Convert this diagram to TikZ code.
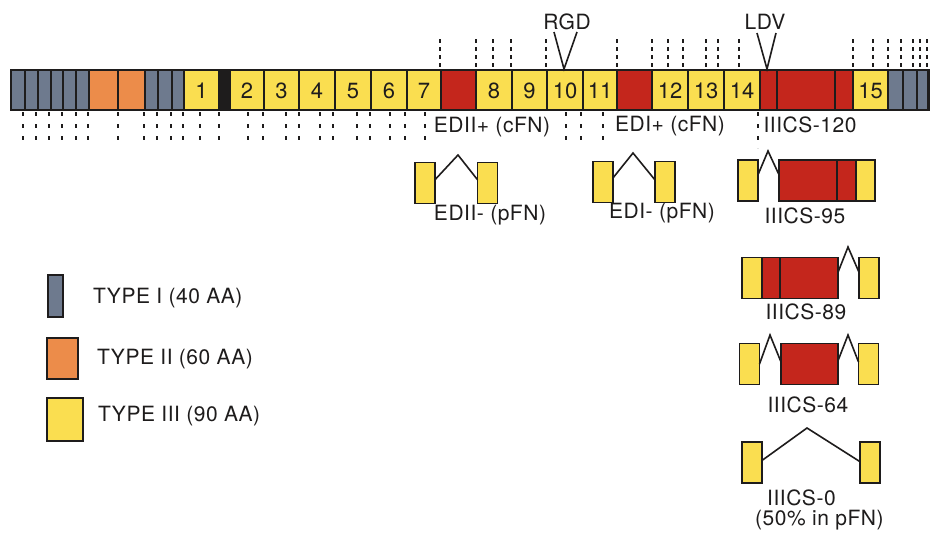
\documentclass[tikz,border=0pt]{standalone}
\usepackage{fontspec}
\setmainfont{TeX Gyre Heros}
\newfontfamily\lblfont[LetterSpace=2.5]{TeX Gyre Heros}
\usetikzlibrary{calc}

\definecolor{typeI}{RGB}{110,122,142}
\definecolor{typeII}{RGB}{236,140,74}
\definecolor{typeIII}{RGB}{250,222,80}
\definecolor{varred}{RGB}{196,38,28}
\definecolor{ink}{RGB}{30,28,28}

\tikzset{
  segline/.style={draw=ink, line width=1.4pt},
  lbl/.style={font=\lblfont\fontsize{21}{23}\selectfont, text=ink, inner sep=0pt},
  num/.style={font=\fontsize{22}{24}\selectfont, text=ink, inner sep=0pt},
  tickup/.style={draw=ink, line width=1.7pt, dash pattern=on 4pt off 4pt},
  tickdn/.style={draw=ink, line width=1.7pt, dash pattern=on 4pt off 8pt},
  exon/.style={draw=ink, line width=1.4pt, fill=typeIII, minimum width=20pt,
               minimum height=41pt, inner sep=0pt, outer sep=0pt},
  redblock/.style={draw=ink, line width=1.4pt, fill=varred, minimum height=41pt,
               inner sep=0pt, outer sep=0pt},
  hinge/.style={draw=ink, line width=1.6pt, line join=miter},
  vmark/.style={draw=ink, line width=1.6pt},
  legbox/.style={draw=ink, line width=1.4pt, inner sep=0pt, outer sep=0pt},
}

\begin{document}
\begin{tikzpicture}[x=1pt, y=-1pt]
\useasboundingbox (0,0) rectangle (930,536);
\fill[white] (0,0) rectangle (930,536);

% ---- domain bar of fibronectin ----
\begin{scope}
\clip (0,60) rectangle (930,120);
\foreach \a/\b/\c in {
  11/25/typeI, 25/38/typeI, 38/51/typeI, 51/63/typeI, 63/76/typeI, 76/89/typeI,
  89/118/typeII, 118/145/typeII,
  145/158/typeI, 158/172/typeI, 172/184/typeI,
  184/219/typeIII, 219/230/ink,
  230/264/typeIII, 264/299/typeIII, 299/335/typeIII, 335/371/typeIII,
  371/407/typeIII, 407/441/typeIII,
  441/476/varred,
  476/512/typeIII, 512/547/typeIII, 547/583/typeIII, 583/617/typeIII,
  617/652/varred,
  652/688/typeIII, 688/724/typeIII, 724/760/typeIII,
  760/777/varred, 777/835/varred, 835/853/varred,
  853/888/typeIII,
  888/903/typeI, 903/917/typeI, 917/928/typeI, 928/940/ink}
  {\filldraw[segline, fill=\c] (\a,70) rectangle (\b,110);}
\end{scope}

% module numbers
\foreach \x/\t in {201.5/1, 247/2, 281.5/3, 317/4, 353/5, 389/6, 424/7,
  494/8, 529.5/9, 565/10, 600/11, 670/12, 706/13, 742/14, 870.5/15}
  {\node[num] (m\t) at (\x,91) {\t};}

% dotted marks above the bar
\foreach \x in {440, 476, 493, 511, 546, 617, 652, 668, 683, 706, 718, 739,
  853, 873, 888, 901, 913, 920, 927}
  {\draw[tickup] (\x,39) -- (\x,68);}

% dotted marks below the bar
\foreach \x in {23, 36, 49, 62, 76, 88, 118, 144, 157, 171, 183, 200, 219,
  248, 263, 286, 299, 320, 333, 357, 370, 390, 405, 425, 566, 581, 603}
  {\draw[tickdn] (\x,112) -- (\x,141);}
\draw[tickdn] (758,112) -- (758,148);

% RGD and LDV sites
\node[lbl] (rgd) at (567,22) {RGD};
\coordinate (rgdL) at (554,32);
\coordinate (rgdR) at (577,32);
\coordinate (rgdTip) at (564,69);
\draw[vmark] (rgdL) -- (rgdTip) -- (rgdR);

\node[lbl] (ldv) at (765,22) {LDV};
\coordinate (ldvL) at (757,33);
\coordinate (ldvR) at (776,33);
\coordinate (ldvTip) at (767,69);
\draw[vmark] (ldvL) -- (ldvTip) -- (ldvR);

% labels under the bar
\node[lbl] (ed2p) at (492,127) {EDII+ (cFN)};
\node[lbl] (ed1p) at (670,126) {EDI+ (cFN)};
\node[lbl] (cs120) at (810,125) {IIICS-120};

% ---- EDII- ----
\node[exon] (a1) at (425,183) {};
\node[exon] (a2) at (487.5,183) {};
\coordinate (aTop) at (458,155);
\draw[hinge] ($(a1.north east)!0.42!(a1.south east)$) -- (aTop)
  -- ($(a2.north west)!0.42!(a2.south west)$);
\node[lbl] (ed2m) at (490,215) {EDII- (pFN)};

% ---- EDI- ----
\node[exon] (b1) at (603,182) {};
\node[exon] (b2) at (665,182) {};
\coordinate (bTop) at (633,153);
\draw[hinge] ($(b1.north east)!0.4!(b1.south east)$) -- (bTop)
  -- ($(b2.north west)!0.45!(b2.south west)$);
\node[lbl] (ed1m) at (662,213) {EDI- (pFN)};

% ---- IIICS-95 ----
\node[exon] (c1) at (748,180.5) {};
\node[redblock, minimum width=58pt] (c2) at (808,180.5) {};
\node[redblock, minimum width=19pt] (c3) at (846.5,180.5) {};
\node[exon, minimum width=19pt] (c4) at (865.5,180.5) {};
\coordinate (cTop) at (768,151);
\draw[hinge] ($(c1.north east)!0.36!(c1.south east)$) -- (cTop)
  -- ($(c2.north west)!0.36!(c2.south west)$);
\node[lbl] (cs95) at (805,216) {IIICS-95};

% ---- IIICS-89 ----
\node[exon] (d1) at (752,278) {};
\node[redblock, minimum width=18pt] (d2) at (771,278) {};
\node[redblock, minimum width=58pt] (d3) at (809,278) {};
\node[exon] (d4) at (869,278) {};
\coordinate (dTop) at (848,247);
\draw[hinge] ($(d3.north east)!0.36!(d3.south east)$) -- (dTop)
  -- ($(d4.north west)!0.36!(d4.south west)$);
\node[lbl] (cs89) at (806,312) {IIICS-89};

% ---- IIICS-64 ----
\node[exon] (e1) at (749.5,364) {};
\node[redblock, minimum width=57pt] (e2) at (809.5,364) {};
\node[exon] (e3) at (868.5,364) {};
\coordinate (eTopL) at (770,335);
\coordinate (eTopR) at (848,335);
\draw[hinge] ($(e1.north east)!0.5!(e1.south east)$) -- (eTopL)
  -- ($(e2.north west)!0.45!(e2.south west)$);
\draw[hinge] ($(e2.north east)!0.42!(e2.south east)$) -- (eTopR)
  -- ($(e3.north west)!0.45!(e3.south west)$);
\node[lbl] (cs64) at (808,405) {IIICS-64};

% ---- IIICS-0 ----
\node[exon] (f1) at (752,462.5) {};
\node[exon] (f2) at (870,462.5) {};
\coordinate (fTop) at (807,428);
\draw[hinge] ($(f1.north east)!0.45!(f1.south east)$) -- (fTop)
  -- ($(f2.north west)!0.48!(f2.south west)$);
\node[lbl, anchor=west] (cs0) at (767,498) {IIICS-0};
\node[lbl, anchor=west] (cs0b) at (755,520) {(50\% in pFN)};

% ---- legend ----
\node[legbox, fill=typeI, minimum width=15pt, minimum height=42pt] (k1) at (55.5,296) {};
\node[legbox, fill=typeII, minimum width=31pt, minimum height=41pt] (k2) at (62.5,358.5) {};
\node[legbox, fill=typeIII, minimum width=36pt, minimum height=43pt] (k3) at (65,419.5) {};
\node[lbl, anchor=west] (t1) at (93,298) {TYPE I (40 AA)};
\node[lbl, anchor=west] (t2) at (97,359) {TYPE II (60 AA)};
\node[lbl, anchor=west] (t3) at (98,416) {TYPE III (90 AA)};
\end{tikzpicture}
\end{document}
